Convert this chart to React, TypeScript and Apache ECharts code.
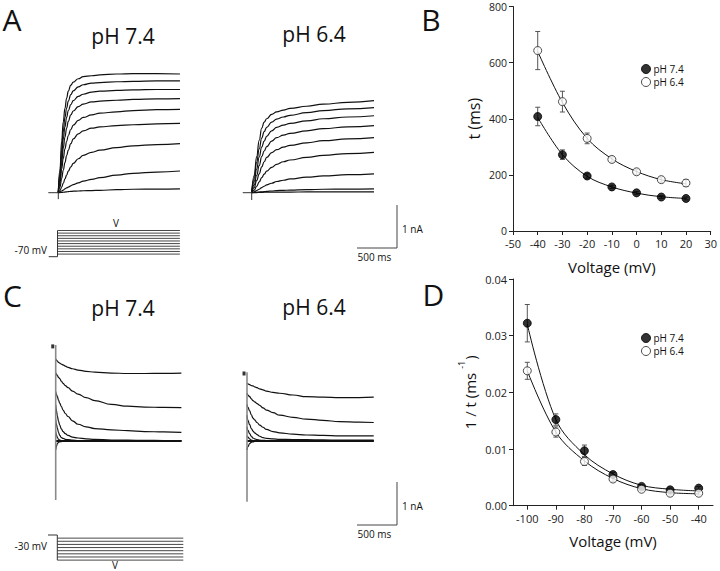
import React, { useEffect, useRef } from "react";
import * as echarts from "echarts";

// ---------- Panel B: time constants (ms) vs voltage ----------
const voltagesB = [-40, -30, -20, -10, 0, 10, 20];
const tauPH74 = [408, 272, 196, 157, 136, 121, 116];
const tauPH74Err = [33, 17, 8, 6, 5, 5, 5];
const tauPH64 = [643, 461, 330, 255, 211, 183, 171];
const tauPH64Err = [68, 37, 19, 9, 9, 9, 12];
const fitB74 = [405, 272, 195, 157, 135, 122, 116];
const fitB64 = [640, 458, 330, 257, 212, 183, 168];

// ---------- Panel D: 1/tau vs voltage ----------
const voltagesD = [-100, -90, -80, -70, -60, -50, -40];
const rateD74 = [0.0322, 0.0152, 0.0097, 0.0055, 0.0034, 0.0028, 0.0031];
const rateD74Err = [0.0033, 0.001, 0.001, 0.0004, 0.0003, 0.0003, 0.0003];
const rateD64 = [0.0238, 0.013, 0.0078, 0.0047, 0.0029, 0.0022, 0.0022];
const rateD64Err = [0.0015, 0.0009, 0.0007, 0.0004, 0.0003, 0.0003, 0.0003];
const fitD74 = [0.032, 0.0152, 0.009, 0.0056, 0.0036, 0.0029, 0.0026];
const fitD64 = [0.0238, 0.013, 0.0079, 0.0048, 0.003, 0.0023, 0.0021];

// ---------- Panel A: activation currents (ms, nA) ----------
const timesA74 = [0, 21, 42, 62, 83, 104, 125, 156, 187, 250, 312, 417, 521, 729, 937, 1229, 1521];
const tracesA74 = [
  [0, 0.55, 1.2, 1.65, 1.96, 2.2, 2.36, 2.5, 2.57, 2.65, 2.7, 2.72, 2.74, 2.76, 2.77, 2.77, 2.76],
  [0, 0.45, 1.0, 1.42, 1.75, 1.97, 2.13, 2.28, 2.37, 2.46, 2.51, 2.55, 2.56, 2.58, 2.59, 2.6, 2.6],
  [0, 0.38, 0.85, 1.25, 1.53, 1.75, 1.91, 2.05, 2.14, 2.24, 2.29, 2.34, 2.36, 2.38, 2.39, 2.4, 2.4],
  [0, 0.3, 0.7, 1.03, 1.29, 1.5, 1.66, 1.81, 1.9, 2.0, 2.06, 2.11, 2.13, 2.15, 2.17, 2.18, 2.19],
  [0, 0.22, 0.55, 0.8, 1.02, 1.19, 1.33, 1.47, 1.57, 1.68, 1.75, 1.81, 1.85, 1.88, 1.91, 1.93, 1.94],
  [0, 0.13, 0.33, 0.52, 0.7, 0.86, 0.99, 1.14, 1.25, 1.37, 1.44, 1.5, 1.53, 1.56, 1.58, 1.6, 1.61],
  [0, 0.05, 0.13, 0.22, 0.32, 0.41, 0.5, 0.6, 0.68, 0.79, 0.87, 0.94, 0.99, 1.05, 1.09, 1.12, 1.14],
  [0, 0.02, 0.04, 0.06, 0.09, 0.11, 0.13, 0.16, 0.19, 0.23, 0.27, 0.31, 0.35, 0.41, 0.45, 0.48, 0.505],
  [0, 0.003, 0.006, 0.01, 0.015, 0.02, 0.025, 0.03, 0.035, 0.04, 0.045, 0.05, 0.055, 0.07, 0.08, 0.085, 0.09],
];
const timesA64 = [0, 31, 62, 94, 125, 156, 187, 250, 312, 396, 479, 688, 896, 1200, 1529];
const tracesA64 = [
  [0, 0.4, 0.84, 1.22, 1.5, 1.64, 1.72, 1.82, 1.88, 1.92, 1.96, 2.01, 2.06, 2.1, 2.14],
  [0, 0.33, 0.7, 1.02, 1.27, 1.42, 1.52, 1.64, 1.71, 1.76, 1.8, 1.86, 1.91, 1.95, 1.98],
  [0, 0.26, 0.55, 0.83, 1.06, 1.2, 1.31, 1.44, 1.52, 1.57, 1.61, 1.67, 1.72, 1.76, 1.79],
  [0, 0.18, 0.4, 0.63, 0.84, 0.97, 1.07, 1.2, 1.28, 1.34, 1.38, 1.44, 1.49, 1.53, 1.56],
  [0, 0.12, 0.28, 0.44, 0.6, 0.72, 0.82, 0.93, 1.0, 1.06, 1.1, 1.16, 1.21, 1.25, 1.28],
  [0, 0.06, 0.15, 0.25, 0.35, 0.43, 0.5, 0.59, 0.66, 0.72, 0.76, 0.82, 0.87, 0.91, 0.94],
  [0, 0.02, 0.05, 0.08, 0.12, 0.15, 0.18, 0.22, 0.26, 0.29, 0.32, 0.36, 0.39, 0.42, 0.44],
  [0, 0.005, 0.01, 0.015, 0.02, 0.025, 0.03, 0.04, 0.05, 0.055, 0.06, 0.07, 0.08, 0.085, 0.09],
  [0, 0.002, 0.004, 0.006, 0.008, 0.01, 0.01, 0.012, 0.014, 0.015, 0.015, 0.017, 0.018, 0.02, 0.02],
];
const stubA74 = [[-125, 0], [0, 0], [0, -0.15]];
const stubA64 = [[-112, 0], [0, 0], [0, -0.17]];

// ---------- Panel C: deactivation tail currents (ms, nA rel. steady state) ----------
const timesC74 = [0, 10, 21, 35, 50, 71, 92, 120, 154, 210, 279, 380, 487, 696, 900, 1112, 1350, 1571];
const tracesC74 = [
  [1.91, 1.88, 1.86, 1.83, 1.81, 1.79, 1.77, 1.74, 1.71, 1.68, 1.65, 1.62, 1.6, 1.58, 1.57, 1.57, 1.575, 1.58],
  [1.59, 1.55, 1.52, 1.48, 1.45, 1.39, 1.34, 1.29, 1.24, 1.16, 1.09, 1.01, 0.94, 0.85, 0.81, 0.79, 0.78, 0.775],
  [1.15, 1.08, 1.03, 0.95, 0.88, 0.8, 0.72, 0.64, 0.57, 0.47, 0.39, 0.33, 0.29, 0.26, 0.24, 0.22, 0.21, 0.2],
  [0.84, 0.7, 0.58, 0.46, 0.37, 0.28, 0.22, 0.17, 0.13, 0.09, 0.07, 0.05, 0.04, 0.02, 0.02, 0.015, 0.01, 0.01],
  [0.49, 0.38, 0.3, 0.2, 0.13, 0.08, 0.06, 0.04, 0.03, 0.02, 0.01, 0.01, 0.005, 0, 0, 0, 0, 0],
  [0.22, 0.14, 0.08, 0.04, 0.02, 0.01, 0.005, 0, 0, 0, 0, 0, 0, 0, 0, 0, 0, 0],
  [-0.21, -0.12, -0.06, -0.03, -0.02, -0.015, -0.01, -0.005, 0, 0, 0, 0, 0, 0, 0, 0, 0, 0],
  [0, 0, 0, 0, 0, 0, 0, 0, 0, 0, 0, 0, 0, 0, 0, 0, 0, 0],
];
const timesC64 = [0, 12, 33, 54, 75, 96, 125, 158, 200, 242, 325, 408, 575, 742, 950, 1158, 1400, 1584];
const tracesC64 = [
  [1.34, 1.33, 1.31, 1.29, 1.28, 1.26, 1.24, 1.21, 1.19, 1.16, 1.13, 1.11, 1.07, 1.03, 1.02, 1.01, 1.01, 1.02],
  [1.11, 1.07, 1.03, 0.98, 0.94, 0.91, 0.87, 0.83, 0.77, 0.72, 0.66, 0.6, 0.55, 0.51, 0.48, 0.45, 0.44, 0.43],
  [0.85, 0.78, 0.7, 0.61, 0.53, 0.49, 0.43, 0.37, 0.32, 0.27, 0.22, 0.19, 0.16, 0.14, 0.13, 0.12, 0.12, 0.12],
  [0.6, 0.48, 0.38, 0.29, 0.23, 0.19, 0.15, 0.11, 0.08, 0.06, 0.05, 0.04, 0.035, 0.03, 0.025, 0.02, 0.02, 0.02],
  [0.33, 0.25, 0.17, 0.11, 0.07, 0.05, 0.035, 0.02, 0.015, 0.01, 0.01, 0.01, 0.01, 0.01, 0.01, 0.01, 0.01, 0.01],
  [0.12, 0.09, 0.05, 0.02, 0.01, 0.005, 0, 0, 0, 0, 0, 0, 0, 0, 0, 0, 0, 0],
  [-0.21, -0.13, -0.06, -0.03, -0.02, -0.01, -0.005, 0, 0, 0, 0, 0, 0, 0, 0, 0, 0, 0],
  [0, 0, 0, 0, 0, 0, 0, 0, 0, 0, 0, 0, 0, 0, 0, 0, 0, 0],
];
const transientC74 = [2.23, -1.37];
const transientC64 = [1.6, -1.41];
const markerC74 = [-37, 2.2];
const markerC64 = [-37, 1.57];

// ---------- Voltage protocols (ms, mV) ----------
const protocolAHolding = -70;
const protocolALevels = [-60, -50, -40, -30, -20, -10, 0, 10, 20, 30];
const protocolAStart = -110;
const protocolAEnd = 1530;
const protocolCHolding = -30;
const protocolCLevels = [-40, -50, -60, -70, -80, -90, -100, -110];
const protocolCStart = -116;
const protocolCEnd = 1575;

const FONT = '"Open Sans", "Noto Sans", "DejaVu Sans", sans-serif';
const INK = "#111";

function buildOption() {
  const grids: any[] = [];
  const xAxes: any[] = [];
  const yAxes: any[] = [];
  const series: any[] = [];

  const addHidden = (g: any) => {
    const idx = grids.length;
    grids.push({ left: g.left, top: g.top, width: g.width, height: g.height, containLabel: false });
    xAxes.push({
      type: "value", gridIndex: idx, show: false,
      min: (g.left - g.x0) / g.xPx, max: (g.left + g.width - g.x0) / g.xPx,
    });
    yAxes.push({
      type: "value", gridIndex: idx, show: false,
      min: g.yRef + (g.y0 - (g.top + g.height)) / g.yPx,
      max: g.yRef + (g.y0 - g.top) / g.yPx,
    });
    return idx;
  };
  const msPx = 40 / 500;
  const nAPx = 43;

  const gA74 = addHidden({ left: 40, top: 50, width: 150, height: 155, x0: 58.3, y0: 192.7, xPx: msPx, yPx: nAPx, yRef: 0 });
  const gA64 = addHidden({ left: 232, top: 50, width: 150, height: 155, x0: 251.7, y0: 192.7, xPx: msPx, yPx: nAPx, yRef: 0 });
  const gPA = addHidden({ left: 40, top: 220, width: 150, height: 45, x0: 57.5, y0: 256.7, xPx: msPx, yPx: 0.262, yRef: -70 });
  const gC74 = addHidden({ left: 40, top: 330, width: 150, height: 180, x0: 55.7, y0: 441, xPx: msPx, yPx: nAPx, yRef: 0 });
  const gC64 = addHidden({ left: 232, top: 330, width: 150, height: 180, x0: 247, y0: 441, xPx: msPx, yPx: nAPx, yRef: 0 });
  const gPC = addHidden({ left: 40, top: 528, width: 150, height: 40, x0: 57.3, y0: 535, xPx: msPx, yPx: 0.314, yRef: -30 });

  const trace = (idx: number, data: any[], color = INK, width = 1.2, smooth: any = 0.45) => ({
    type: "line", xAxisIndex: idx, yAxisIndex: idx, data, symbol: "none",
    smooth, smoothMonotone: "x", silent: true, z: 2,
    lineStyle: { color, width },
  });
  const zip = (ts: number[], vs: number[]) => ts.map((t, i) => [t, vs[i]]);

  tracesA74.forEach((v) => series.push(trace(gA74, zip(timesA74, v))));
  tracesA64.forEach((v) => series.push(trace(gA64, zip(timesA64, v))));
  series.push(trace(gA74, stubA74, "#333", 1, false));
  series.push(trace(gA64, stubA64, "#333", 1, false));

  tracesC74.forEach((v, i) => series.push(trace(gC74, zip(timesC74, v), INK, i === tracesC74.length - 1 ? 2.2 : 1.2)));
  tracesC64.forEach((v, i) => series.push(trace(gC64, zip(timesC64, v), INK, i === tracesC64.length - 1 ? 2.2 : 1.2)));
  series.push(trace(gC74, [[0, transientC74[0]], [0, transientC74[1]]], "#8a8a8a", 1.6, false));
  series.push(trace(gC64, [[0, transientC64[0]], [0, transientC64[1]]], "#8a8a8a", 1.6, false));
  [[gC74, markerC74], [gC64, markerC64]].forEach(([g, m]: any) =>
    series.push({
      type: "scatter", xAxisIndex: g, yAxisIndex: g, data: [m], symbol: "rect",
      symbolSize: [3, 4], itemStyle: { color: "#000" }, silent: true, z: 4,
    })
  );

  // protocols
  series.push(trace(gPA, [[protocolAStart, protocolAHolding], [0, protocolAHolding], [0, Math.max(...protocolALevels)]], "#333", 1, false));
  protocolALevels.forEach((v) => series.push(trace(gPA, [[0, v], [protocolAEnd, v]], "#333", 0.9, false)));
  series.push(trace(gPC, [[protocolCStart, protocolCHolding], [0, protocolCHolding], [0, Math.min(...protocolCLevels)]], "#333", 1, false));
  protocolCLevels.forEach((v) => series.push(trace(gPC, [[0, v], [protocolCEnd, v]], "#333", 0.9, false)));

  // ---------- plots B and D ----------
  const axisCommon = {
    axisLine: { show: true, onZero: false, lineStyle: { color: "#222", width: 1 } },
    axisTick: { show: true, length: 4, inside: false, lineStyle: { color: "#222", width: 1 } },
    splitLine: { show: false },
    axisLabel: { fontSize: 11, color: "#222", fontFamily: FONT },
    nameTextStyle: { fontSize: 15, color: INK, fontFamily: FONT },
    nameLocation: "middle",
  };

  const gB = grids.length;
  grids.push({ left: 513, top: 6.5, width: 200, height: 224.5, containLabel: false });
  xAxes.push({
    ...axisCommon, type: "value", gridIndex: gB, min: -50, max: 30, interval: 10,
    name: "Voltage (mV)", nameGap: 28, axisLabel: { ...axisCommon.axisLabel, margin: 7 },
  });
  yAxes.push({
    ...axisCommon, type: "value", gridIndex: gB, min: 0, max: 800, interval: 200,
    name: "t (ms)", nameGap: 31, nameTextStyle: { ...axisCommon.nameTextStyle, fontSize: 16 },
    axisLabel: { ...axisCommon.axisLabel, fontSize: 10.5, margin: 6 },
  });

  const gD = grids.length;
  grids.push({ left: 513, top: 279, width: 200, height: 226.7, containLabel: false });
  xAxes.push({
    ...axisCommon, type: "value", gridIndex: gD, min: -105, max: -35,
    name: "Voltage (mV)", nameGap: 28,
    axisTick: { ...axisCommon.axisTick, customValues: voltagesD },
    axisLabel: { ...axisCommon.axisLabel, margin: 7, customValues: voltagesD },
  });
  yAxes.push({
    ...axisCommon, type: "value", gridIndex: gD, min: 0, max: 0.04, interval: 0.01,
    name: "{a|1 / t (ms }{s|-1}{a|)}", nameGap: 36,
    nameTextStyle: {
      ...axisCommon.nameTextStyle,
      rich: {
        a: { fontSize: 15, fontFamily: FONT, color: INK, lineHeight: 20, verticalAlign: "bottom" },
        s: { fontSize: 9, fontFamily: FONT, color: INK, lineHeight: 20, verticalAlign: "top", padding: [0, 1, 0, 0] },
      },
    },
    axisLabel: { ...axisCommon.axisLabel, margin: 6, formatter: (v: number) => v.toFixed(2) },
  });

  const errorBars = (g: number, xs: number[], ys: number[], es: number[]) => ({
    type: "custom", xAxisIndex: g, yAxisIndex: g, silent: true, z: 1,
    data: xs.map((x, i) => [x, ys[i] - es[i], ys[i] + es[i]]),
    encode: { x: 0, y: [1, 2] },
    renderItem: (_p: any, api: any) => {
      const x = api.value(0);
      const lo = api.coord([x, api.value(1)]);
      const hi = api.coord([x, api.value(2)]);
      const c = 2.5;
      const st = { stroke: "#555", lineWidth: 1 };
      return {
        type: "group",
        children: [
          { type: "line", shape: { x1: lo[0], y1: lo[1], x2: hi[0], y2: hi[1] }, style: st },
          { type: "line", shape: { x1: hi[0] - c, y1: hi[1], x2: hi[0] + c, y2: hi[1] }, style: st },
          { type: "line", shape: { x1: lo[0] - c, y1: lo[1], x2: lo[0] + c, y2: lo[1] }, style: st },
        ],
      };
    },
  });
  const fit = (g: number, xs: number[], ys: number[], name: string) => ({
    type: "line", name, xAxisIndex: g, yAxisIndex: g, data: zip(xs, ys), symbol: "none",
    smooth: 0.35, silent: true, z: 2, lineStyle: { color: INK, width: 1 },
  });
  const filledStyle = { color: "#000", borderColor: "#000", borderWidth: 1 };
  const openStyle = { color: "#fff", borderColor: "#222", borderWidth: 1 };
  const points = (g: number, xs: number[], ys: number[], name: string, filled: boolean) => ({
    type: "scatter", name, xAxisIndex: g, yAxisIndex: g, data: zip(xs, ys), symbol: "circle",
    symbolSize: 8, silent: true, z: 3,
    itemStyle: filled ? filledStyle : openStyle,
  });

  series.push(errorBars(gB, voltagesB, tauPH74, tauPH74Err));
  series.push(errorBars(gB, voltagesB, tauPH64, tauPH64Err));
  series.push(fit(gB, voltagesB, fitB74, "fitB74"));
  series.push(fit(gB, voltagesB, fitB64, "fitB64"));
  series.push(points(gB, voltagesB, tauPH74, "pH 7.4", true));
  series.push(points(gB, voltagesB, tauPH64, "pH 6.4", false));

  series.push(errorBars(gD, voltagesD, rateD74, rateD74Err));
  series.push(errorBars(gD, voltagesD, rateD64, rateD64Err));
  series.push(fit(gD, voltagesD, fitD74, "fitD74"));
  series.push(fit(gD, voltagesD, fitD64, "fitD64"));
  series.push(points(gD, voltagesD, rateD74, "pH 7.4", true));
  series.push(points(gD, voltagesD, rateD64, "pH 6.4", false));

  const legendCommon = {
    data: [
      { name: "pH 7.4", icon: "circle", itemStyle: filledStyle },
      { name: "pH 6.4", icon: "circle", itemStyle: openStyle },
    ],
    orient: "vertical", itemWidth: 9, itemHeight: 9,
    itemGap: 3, selectedMode: false, padding: 0,
    textStyle: { fontSize: 10, color: INK, fontFamily: FONT, padding: [0, 0, 0, -2] },
  };
  const legend = [
    { ...legendCommon, left: 641, top: 64 },
    { ...legendCommon, left: 641, top: 333 },
  ];

  const txt = (x: number, y: number, text: string, size: number, align = "center") => ({
    type: "text", x, y, silent: true,
    style: {
      text, fontSize: size, fontFamily: FONT, fill: INK,
      textAlign: align, textVerticalAlign: "middle", align, verticalAlign: "middle",
    },
  });
  const bar = (pts: number[][]) => ({
    type: "polyline", silent: true, shape: { points: pts },
    style: { stroke: "#444", lineWidth: 1, fill: "none" },
  });

  const graphic = [
    txt(12, 19.5, "A", 30), txt(431, 19.5, "B", 30), txt(12.5, 295, "C", 30), txt(433.5, 294, "D", 30),
    txt(123, 36, "pH 7.4", 21), txt(314, 34, "pH 6.4", 21),
    txt(123, 308, "pH 7.4", 21), txt(314, 307, "pH 6.4", 21),
    txt(47, 250, "-70 mV", 10, "right"), txt(116, 223, "V", 10),
    txt(47, 546, "-30 mV", 10, "right"), txt(115, 564.5, "V", 10),
    txt(402, 229, "1 nA", 10, "left"), txt(374.5, 257, "500 ms", 10),
    txt(402, 506, "1 nA", 10, "left"), txt(374.5, 534, "500 ms", 10),
    bar([[357, 248], [397, 248], [397, 205]]),
    bar([[357, 525], [397, 525], [397, 482]]),
  ];

  return {
    animation: false,
    backgroundColor: "#fff",
    grid: grids,
    xAxis: xAxes,
    yAxis: yAxes,
    legend,
    series,
    graphic,
  };
}

export default function App() {
  const ref = useRef<HTMLDivElement>(null);
  useEffect(() => {
    if (!ref.current) return;
    const chart = echarts.init(ref.current, null, { renderer: "svg" });
    chart.setOption(buildOption() as any);
    return () => chart.dispose();
  }, []);
  return (
    <div
      ref={ref}
      style={{ position: "absolute", left: 0, top: 0, width: 720, height: 571, background: "#fff" }}
    />
  );
}
